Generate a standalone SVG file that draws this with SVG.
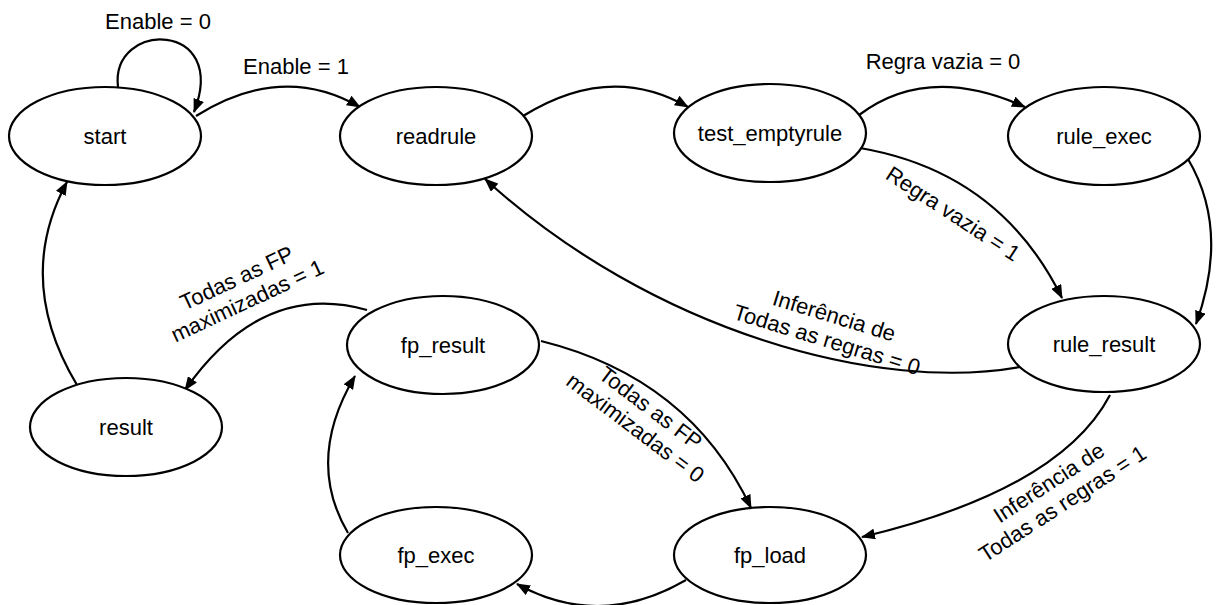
<svg xmlns="http://www.w3.org/2000/svg" width="1221" height="605" viewBox="0 0 1221 605">
  <style>
    .state ellipse { fill: #ffffff; stroke: #000000; stroke-width: 2.2; }
    .state text, .lbl { font-family: "Liberation Sans", Arial, sans-serif; font-size: 22px; fill: #000000; }
    .state text { text-anchor: middle; }
    .lbl { text-anchor: middle; }
    .edge { fill: none; stroke: #000000; stroke-width: 2.2; marker-end: url(#arrow); }
  </style>
  <defs>
    <marker id="arrow" markerUnits="userSpaceOnUse" markerWidth="14" markerHeight="11" refX="13" refY="5.5" orient="auto">
      <path d="M0,0 L14,5.5 L0,11 z" fill="#000000"/>
    </marker>
  </defs>

  <rect width="1221" height="605" fill="#ffffff"/>

  <!-- transitions -->
  <g id="connectors">
    <path class="edge" d="M118,87 C110,20 230,20 194,112"/>
    <path class="edge" d="M196,116 Q282,62 360,107"/>
    <path class="edge" d="M523,116 Q610,62 688,107"/>
    <path class="edge" d="M859,115 Q928,63 1025,107"/>
    <path class="edge" d="M1188,159 Q1230,230 1196,324"/>
    <path class="edge" d="M860,148 Q1000,172 1062,298"/>
    <path class="edge" d="M1025,366 C880,395 650,330 485,179"/>
    <path class="edge" d="M1110,395 Q1060,490 862,537"/>
    <path class="edge" d="M541,341 Q690,378 751,508"/>
    <path class="edge" d="M686,580 Q600,630 517,584"/>
    <path class="edge" d="M348,533 Q305,460 355,376"/>
    <path class="edge" d="M367,310 Q262,280 185,390"/>
    <path class="edge" d="M77,385 Q14,280 67,182"/>
  </g>

  <!-- transition labels -->
  <g id="labels">
    <text class="lbl" x="158" y="29">Enable = 0</text>
    <text class="lbl" x="296" y="74">Enable = 1</text>
    <text class="lbl" x="943" y="69">Regra vazia = 0</text>
    <text class="lbl" transform="translate(949,220) rotate(33)">Regra vazia = 1</text>
    <text class="lbl" transform="translate(832,323) rotate(17)"><tspan x="0" y="0">Inferência de</tspan><tspan x="0" y="25">Todas as regras = 0</tspan></text>
    <text class="lbl" transform="translate(1053,489) rotate(-33)"><tspan x="0" y="0">Inferência de</tspan><tspan x="0" y="25">Todas as regras = 1</tspan></text>
    <text class="lbl" transform="translate(646,414) rotate(37)"><tspan x="0" y="0">Todas as FP</tspan><tspan x="0" y="25">maximizadas = 0</tspan></text>
    <text class="lbl" transform="translate(240,285) rotate(-25)"><tspan x="0" y="0">Todas as FP</tspan><tspan x="0" y="25">maximizadas = 1</tspan></text>
  </g>

  <!-- states -->
  <g id="start" class="state"><ellipse cx="105" cy="136" rx="96" ry="49"/><text x="105" y="144">start</text></g>
  <g id="readrule" class="state"><ellipse cx="436" cy="136" rx="96" ry="49"/><text x="436" y="144">readrule</text></g>
  <g id="test_emptyrule" class="state"><ellipse cx="770" cy="133" rx="96" ry="49"/><text x="770" y="141">test_emptyrule</text></g>
  <g id="rule_exec" class="state"><ellipse cx="1104" cy="136" rx="96" ry="49"/><text x="1104" y="144">rule_exec</text></g>
  <g id="rule_result" class="state"><ellipse cx="1104" cy="344" rx="96" ry="48"/><text x="1104" y="352">rule_result</text></g>
  <g id="fp_result" class="state"><ellipse cx="443" cy="345" rx="96" ry="49"/><text x="443" y="353">fp_result</text></g>
  <g id="result" class="state"><ellipse cx="126" cy="427" rx="96" ry="49"/><text x="126" y="435">result</text></g>
  <g id="fp_exec" class="state"><ellipse cx="436" cy="555" rx="96" ry="48"/><text x="436" y="563">fp_exec</text></g>
  <g id="fp_load" class="state"><ellipse cx="770" cy="555" rx="96" ry="48"/><text x="770" y="563">fp_load</text></g>
</svg>
